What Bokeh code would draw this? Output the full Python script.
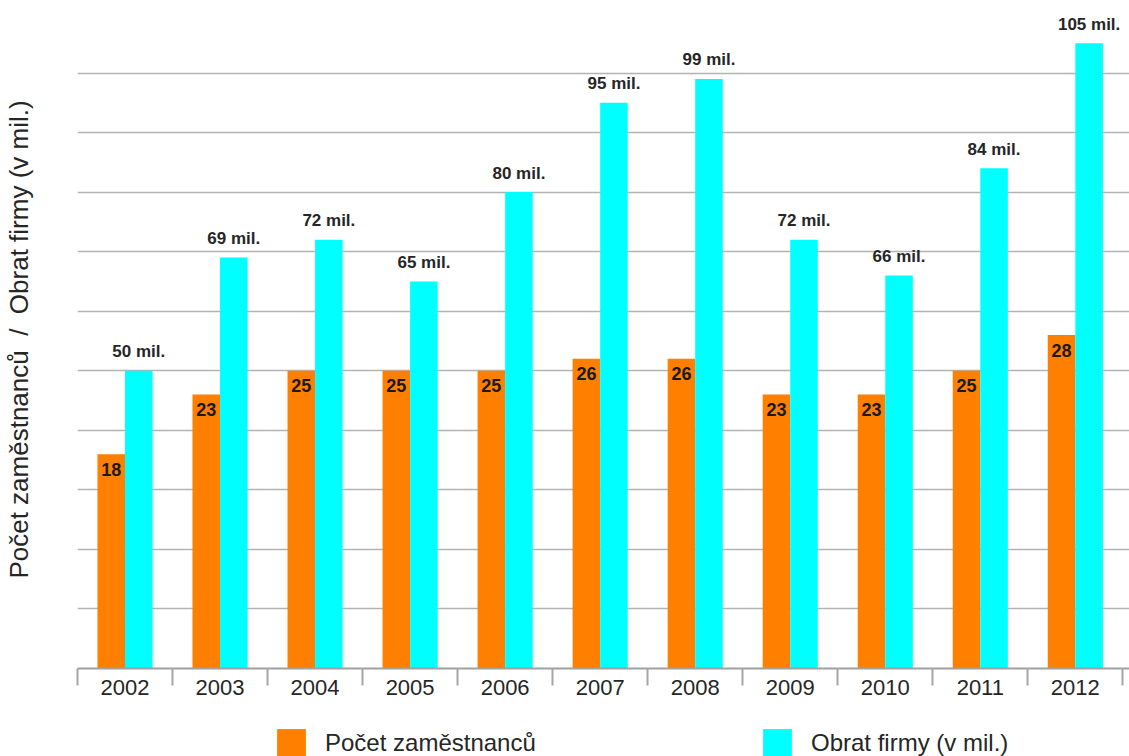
from bokeh.plotting import figure
from bokeh.layouts import column
from bokeh.models import (ColumnDataSource, Range1d, FixedTicker, Legend, LegendItem)
from bokeh.transform import dodge
from bokeh.core.properties import value
from bokeh.embed import file_html
from bokeh.resources import INLINE

# ---- data ----
years = ["2002", "2003", "2004", "2005", "2006", "2007", "2008", "2009", "2010", "2011", "2012"]
employees = [18, 23, 25, 25, 25, 26, 26, 23, 23, 25, 28]
turnover = [50, 69, 72, 65, 80, 95, 99, 72, 66, 84, 105]
grid_ticks = [10, 20, 30, 40, 50, 60, 70, 80, 90, 100]
series_names = ["Počet zaměstnanců", "Obrat firmy (v mil.)"]
y_title = "Počet zaměstnanců\u00a0\u00a0/\u00a0\u00a0Obrat firmy (v mil.)"

FONT = "Liberation Sans"
TXT = "#262626"
ORANGE = "#FF7F00"
CYAN = "#00FFFF"

idx = list(range(len(years)))
src = ColumnDataSource(dict(
    x=idx,
    employees=employees,
    turnover=turnover,
    emp_lbl=[str(v) for v in employees],
    turn_lbl=[f"{v} mil." for v in turnover],
))

PLOT_H = 713
p = figure(width=1129, height=PLOT_H, output_backend="svg", toolbar_location=None,
           x_range=Range1d(-0.5, 10.57), y_range=Range1d(0, 110.5),
           min_border_left=76, min_border_right=0, min_border_top=10,
           min_border_bottom=PLOT_H - 668)
p.extra_y_ranges = {"emp": Range1d(0, 55.25)}
p.outline_line_color = None

# grid
p.xgrid.visible = False
p.ygrid.ticker = FixedTicker(ticks=grid_ticks)
p.ygrid.grid_line_color = "#b3b3b3"
p.ygrid.grid_line_width = 1.5

# y axis: only the title
ya = p.yaxis[0]
ya.ticker = FixedTicker(ticks=grid_ticks)
ya.major_label_overrides = {t: "" for t in grid_ticks}
ya.major_tick_line_color = None
ya.minor_tick_line_color = None
ya.major_tick_out = 0
ya.axis_line_color = None
ya.major_label_standoff = 0
ya.axis_label = y_title
ya.axis_label_text_font = FONT
ya.axis_label_text_font_size = "26px"
ya.axis_label_text_font_style = "normal"
ya.axis_label_text_color = TXT
ya.axis_label_standoff = 44

# x axis
xa = p.xaxis[0]
xa.ticker = FixedTicker(ticks=idx, minor_ticks=[i - 0.5 for i in range(len(years) + 1)])
xa.major_label_overrides = {i: y for i, y in zip(idx, years)}
xa.major_tick_line_color = None
xa.major_tick_out = 0
xa.major_tick_in = 0
xa.minor_tick_line_color = "#a6a6a6"
xa.minor_tick_line_width = 2
xa.minor_tick_out = 17
xa.minor_tick_in = 0
xa.axis_line_color = "#a0a0a0"
xa.axis_line_width = 2
xa.major_label_standoff = -6
xa.major_label_text_font = FONT
xa.major_label_text_font_size = "22px"
xa.major_label_text_color = TXT

# bars
r_emp = p.vbar(x=dodge("x", -0.145, range=p.x_range), top="employees", width=0.29, source=src,
               y_range_name="emp", fill_color=ORANGE, line_color=None)
r_turn = p.vbar(x=dodge("x", 0.145, range=p.x_range), top="turnover", width=0.29, source=src,
                fill_color=CYAN, line_color=None)

# value labels
p.text(x=dodge("x", 0.145, range=p.x_range), y="turnover", text="turn_lbl", source=src,
       text_align="center", text_baseline="alphabetic", y_offset=-19,
       text_font=value(FONT), text_font_size="17px", text_font_style="bold", text_color=TXT)
p.text(x=dodge("x", -0.145, range=p.x_range), y="employees", text="emp_lbl", source=src,
       y_range_name="emp", text_align="center", text_baseline="alphabetic", y_offset=15,
       text_font=value(FONT), text_font_size="18px", text_font_style="bold", text_color="#1a1a1a")

# legend strip (separate figure below the chart; its frame aligns with the chart frame)
LEG_H = 756 - PLOT_H
pl = figure(width=1129, height=LEG_H, output_backend="svg", toolbar_location=None,
            x_axis_location=None, y_axis_location=None,
            x_range=Range1d(-3, -2), y_range=Range1d(0, 1),
            min_border_left=76, min_border_right=0, min_border_top=0, min_border_bottom=0)
pl.outline_line_color = None
pl.grid.visible = False
l_emp = pl.vbar(x="x", top="employees", width=0.29, source=src, visible=False,
                fill_color=ORANGE, line_color=None)
l_turn = pl.vbar(x="x", top="turnover", width=0.29, source=src, visible=False,
                 fill_color=CYAN, line_color=None)
legend = Legend(items=[LegendItem(label=series_names[0], renderers=[l_emp]),
                       LegendItem(label=series_names[1], renderers=[l_turn])],
                location=(196, -5), orientation="horizontal",
                glyph_width=36, glyph_height=36, label_standoff=16, label_width=434,
                spacing=0, padding=0, margin=0,
                border_line_color=None, background_fill_alpha=0,
                label_text_font=FONT, label_text_font_size="24px", label_text_color=TXT)
pl.add_layout(legend)

layout = column(p, pl, spacing=0)
open("out.html", "w").write(file_html(layout, INLINE))
